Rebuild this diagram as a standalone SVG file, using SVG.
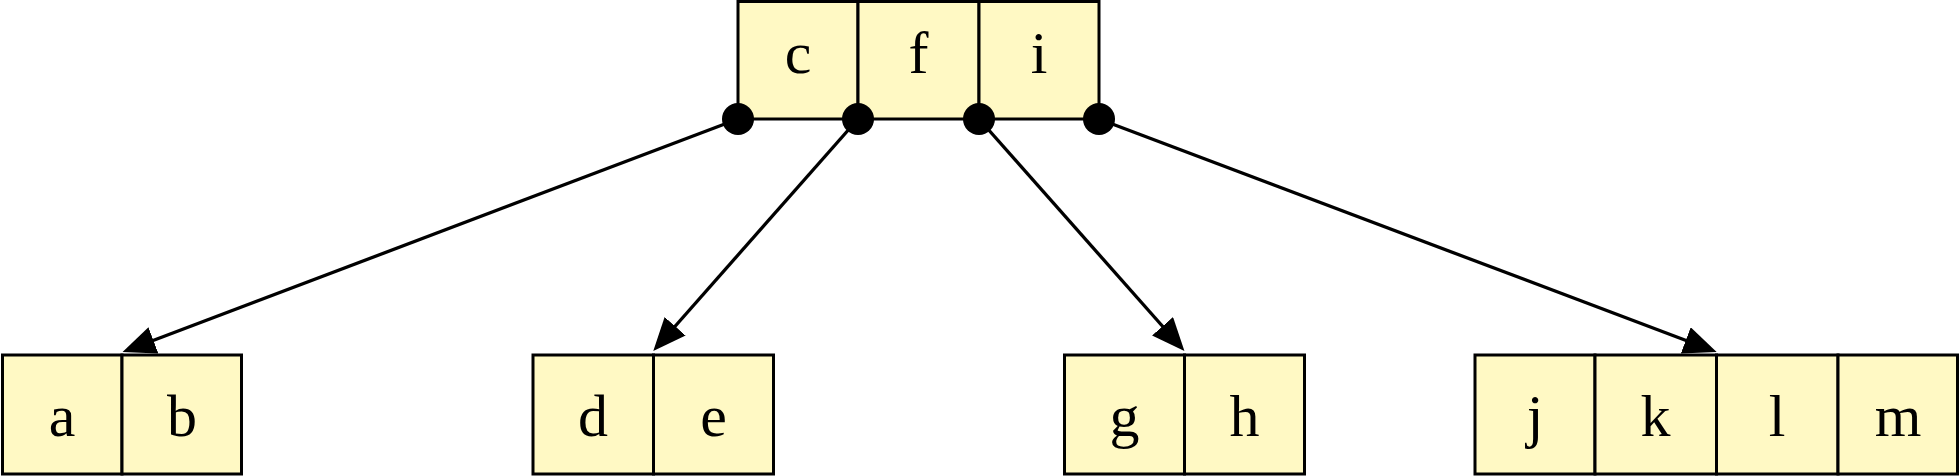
<svg xmlns="http://www.w3.org/2000/svg" width="1959" height="476" viewBox="0 0 1959 476">
<style>
.cell{fill:#FFF9C4;stroke:#000;stroke-width:3}
.lbl{font-family:"Liberation Serif","DejaVu Serif",serif;font-size:60px;text-anchor:middle;fill:#000}
.edge{stroke:#000;stroke-width:3.3;fill:none}
.dot{fill:#000}
</style>
<defs>
<marker id="arr" markerUnits="userSpaceOnUse" markerWidth="36" markerHeight="30" refX="23" refY="14" orient="auto">
<path d="M0,0 L33,14 L0,28 z" fill="#000"/>
</marker>
</defs>
<rect width="1959" height="476" fill="#fff"/>
<g id="edges">
<line class="edge" x1="738" y1="119" x2="131.9" y2="348.5" marker-end="url(#arr)"/>
<line class="edge" x1="858" y1="119" x2="659.9" y2="343.5" marker-end="url(#arr)"/>
<line class="edge" x1="979" y1="119" x2="1177.8" y2="343.5" marker-end="url(#arr)"/>
<line class="edge" x1="1099" y1="119" x2="1707.3" y2="348.5" marker-end="url(#arr)"/>
</g>
<g id="root">
<rect class="cell" x="738" y="1.5" width="120" height="117.5"/>
<rect class="cell" x="858" y="1.5" width="121" height="117.5"/>
<rect class="cell" x="979" y="1.5" width="120" height="117.5"/>
<text class="lbl" x="798" y="73">c</text>
<text class="lbl" x="918.5" y="73">f</text>
<text class="lbl" x="1039" y="73">i</text>
<circle class="dot" cx="738" cy="119" r="16"/>
<circle class="dot" cx="858" cy="119" r="16"/>
<circle class="dot" cx="979" cy="119" r="16"/>
<circle class="dot" cx="1099" cy="119" r="16"/>
</g>
<g id="node-ab">
<rect class="cell" x="2.5" y="355" width="119.5" height="119"/>
<rect class="cell" x="122" y="355" width="119.5" height="119"/>
<text class="lbl" x="62" y="436">a</text>
<text class="lbl" x="182" y="436">b</text>
</g>
<g id="node-de">
<rect class="cell" x="533" y="355" width="120.5" height="119"/>
<rect class="cell" x="653.5" y="355" width="120" height="119"/>
<text class="lbl" x="593" y="436">d</text>
<text class="lbl" x="713.5" y="436">e</text>
</g>
<g id="node-gh">
<rect class="cell" x="1064.5" y="355" width="120" height="119"/>
<rect class="cell" x="1184.5" y="355" width="120" height="119"/>
<text class="lbl" x="1124.5" y="436">g</text>
<text class="lbl" x="1244.5" y="436">h</text>
</g>
<g id="node-jklm">
<rect class="cell" x="1475" y="355" width="120" height="119"/>
<rect class="cell" x="1595" y="355" width="121.5" height="119"/>
<rect class="cell" x="1716.5" y="355" width="121.5" height="119"/>
<rect class="cell" x="1838" y="355" width="119.5" height="119"/>
<text class="lbl" x="1535" y="436">j</text>
<text class="lbl" x="1655.5" y="436">k</text>
<text class="lbl" x="1777" y="436">l</text>
<text class="lbl" x="1898" y="436">m</text>
</g>
</svg>
